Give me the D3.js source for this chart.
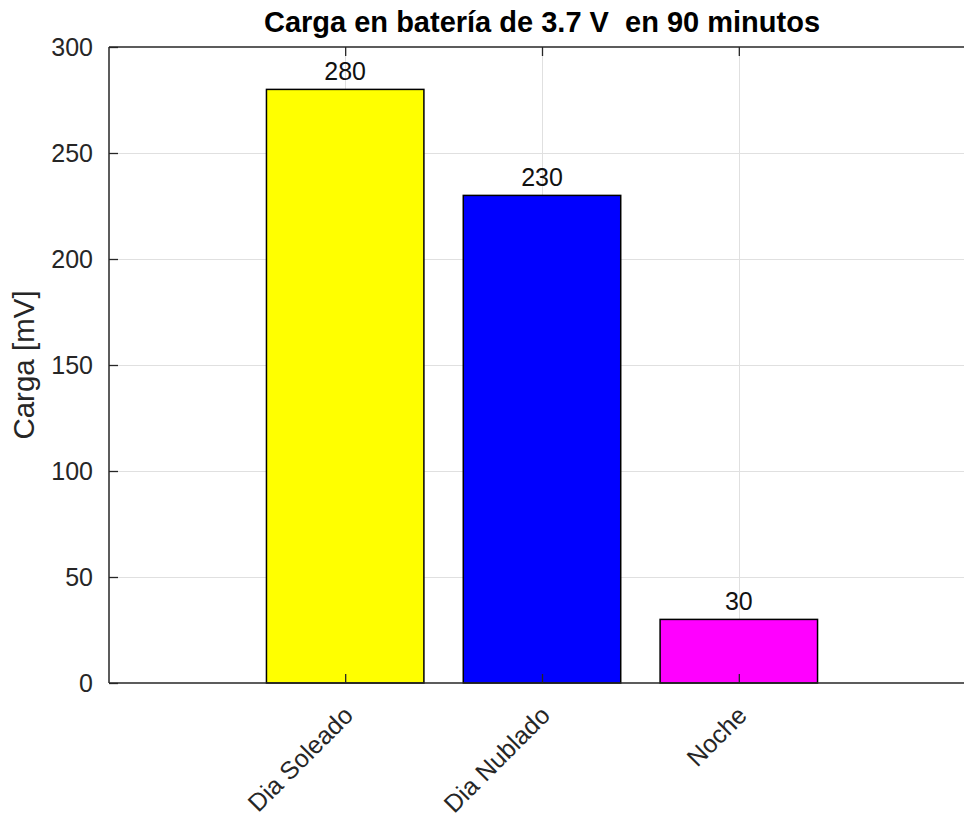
<!DOCTYPE html>
<html>
<head>
<meta charset="utf-8">
<script src="https://cdn.jsdelivr.net/npm/d3@7"></script>
<style>
  html, body { margin: 0; padding: 0; background: #fff; }
  svg { display: block; font-family: "Liberation Sans", Arial, Helvetica, sans-serif; }
</style>
</head>
<body>
<svg id="chart" width="964" height="819"></svg>
<script>
// Battery charge per lighting condition
const categories = ["Dia Soleado", "Dia Nublado", "Noche"];
const values = [280, 230, 30];
const barColors = ["#ffff00", "#0000ff", "#ff00ff"];
const yTicks = [0, 50, 100, 150, 200, 250, 300];
const titleText = "Carga en batería de 3.7 V\u00a0 en 90 minutos";
const yLabelText = "Carga [mV]";

(function draw() {
  const svg = d3.select("#chart");
  const W = 964, H = 819;
  const pLeft = 109, pTop = 47, pBottom = 683, pRight = 975;

  svg.append("rect").attr("width", W).attr("height", H).attr("fill", "#fff");

  // category positions are 1..n, axis limits padded like a default bar plot
  const x = d3.scaleLinear().domain([-0.2, 4.2]).range([pLeft, pRight]);
  const y = d3.scaleLinear().domain([0, 300]).range([pBottom, pTop]);
  const catPos = categories.map((d, i) => i + 1);
  const barW = 0.8;

  // grid
  const grid = svg.append("g").attr("stroke", "#e0e0e0").attr("stroke-width", 1);
  grid.selectAll("line.h").data(yTicks.filter(v => v > 0 && v < 300)).join("line")
    .attr("class", "h")
    .attr("x1", pLeft).attr("x2", pRight)
    .attr("y1", d => Math.round(y(d)) + 0.5).attr("y2", d => Math.round(y(d)) + 0.5);
  grid.selectAll("line.v").data(catPos).join("line")
    .attr("class", "v")
    .attr("y1", pTop).attr("y2", pBottom)
    .attr("x1", d => Math.round(x(d)) + 0.5).attr("x2", d => Math.round(x(d)) + 0.5);

  // bars
  svg.append("g").selectAll("rect").data(values).join("rect")
    .attr("x", (d, i) => x(catPos[i] - barW / 2))
    .attr("width", (d, i) => x(catPos[i] + barW / 2) - x(catPos[i] - barW / 2))
    .attr("y", d => y(d))
    .attr("height", d => y(0) - y(d))
    .attr("fill", (d, i) => barColors[i])
    .attr("stroke", "#000")
    .attr("stroke-width", 1.5);

  // axes
  const axisColor = "#262626";
  const tickLen = 9;

  const gy = svg.append("g").attr("transform", `translate(${pLeft},0)`)
    .call(d3.axisLeft(y).tickValues(yTicks).tickSizeInner(-tickLen).tickSizeOuter(0).tickPadding(16));
  gy.select(".domain").remove();

  const gx = svg.append("g").attr("transform", `translate(0,${pBottom})`)
    .call(d3.axisBottom(x).tickValues(catPos).tickSizeInner(-tickLen).tickSizeOuter(0)
      .tickFormat(d => categories[d - 1]));
  gx.select(".domain").remove();

  const gt = svg.append("g").attr("transform", `translate(0,${pTop})`)
    .call(d3.axisTop(x).tickValues(catPos).tickSizeInner(-tickLen).tickSizeOuter(0).tickFormat(""));
  gt.select(".domain").remove();

  [gy, gx, gt].forEach(g => {
    g.selectAll(".tick line").attr("stroke", axisColor).attr("stroke-width", 1.3);
    g.selectAll("text").attr("fill", axisColor).style("font-size", "25px")
      .style("font-family", "'Liberation Sans', Arial, sans-serif");
  });

  gx.selectAll(".tick text")
    .attr("y", 0).attr("dy", null)
    .attr("text-anchor", "end")
    .attr("transform", "translate(9,34) rotate(-45)");

  // box lines
  const box = svg.append("g").attr("stroke", axisColor).attr("stroke-width", 1.5).attr("fill", "none");
  box.append("line").attr("x1", pLeft).attr("x2", pRight).attr("y1", pTop).attr("y2", pTop);
  box.append("line").attr("x1", pLeft).attr("x2", pRight).attr("y1", pBottom).attr("y2", pBottom);
  box.append("line").attr("x1", pLeft).attr("x2", pLeft).attr("y1", pTop).attr("y2", pBottom);

  // value labels
  svg.append("g").selectAll("text").data(values).join("text")
    .attr("x", (d, i) => x(catPos[i]))
    .attr("y", d => y(d) - 9)
    .attr("text-anchor", "middle")
    .attr("fill", "#111")
    .style("font-size", "25px")
    .text(d => d);

  // title
  svg.append("text")
    .attr("x", (pLeft + pRight) / 2).attr("y", 32)
    .attr("text-anchor", "middle")
    .attr("fill", "#000")
    .style("font-size", "29px").style("font-weight", "bold")
    .text(titleText);

  // y label
  svg.append("text")
    .attr("transform", `translate(34,${(pTop + pBottom) / 2}) rotate(-90)`)
    .attr("text-anchor", "middle")
    .attr("fill", axisColor)
    .style("font-size", "29.5px")
    .text(yLabelText);
})();
</script>
</body>
</html>
